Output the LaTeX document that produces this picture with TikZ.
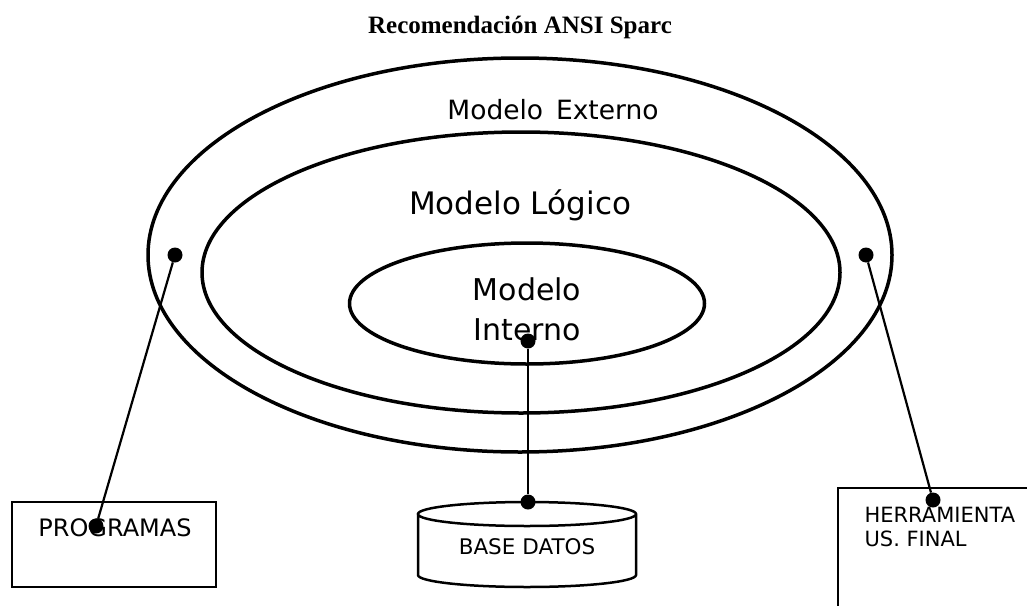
\documentclass[tikz,border=0pt]{standalone}
\usepackage{fontspec}
\setmainfont{DejaVu Sans}
\newfontfamily\titlefont{Liberation Serif}
\usepackage{tikz}
\usetikzlibrary{shapes.geometric}

\tikzset{
  level/.style={ellipse,draw,line width=3.5pt,inner sep=0pt},
  dot/.style={circle,fill,inner sep=0pt,minimum size=15pt},
  tool/.style={rectangle,draw,line width=2.5pt,inner sep=0pt},
  link/.style={line width=2.2pt},
}

\begin{document}
\begin{tikzpicture}[x=1pt,y=-1pt]
            \useasboundingbox[fill=white] (0,0) rectangle (1027,605);
            \clip (0,0) rectangle (1027,605);
            \node[anchor=base,font=\titlefont\bfseries\fontsize{25}{30}\selectfont] (titulo) at (520,33) {Recomendación ANSI Sparc};
            % los tres niveles
            \node[level,minimum width=744pt,minimum height=394pt] (externo) at (520,255) {};
            \node[level,minimum width=638pt,minimum height=281pt] (logico) at (521,272.5) {};
            \node[level,minimum width=355pt,minimum height=121pt] (interno) at (527,303.5) {};
            \node[anchor=base,font=\fontsize{26.5}{30}\selectfont] (lblext) at (553,119) {Modelo\ \,Externo};
            \node[anchor=base,font=\fontsize{31}{36}\selectfont] (lbllog) at (520,214) {Modelo Lógico};
            \node[anchor=base,align=center,font=\fontsize{30}{40}\selectfont] (lblint) at (527,340) {Modelo\\Interno};
            % herramientas de acceso
            \node[tool,minimum width=204pt,minimum height=85pt] (prog) at (114,544.5) {};
            \node[anchor=base,font=\fontsize{24}{28}\selectfont] (lblprog) at (115,536) {PROGRAMAS};
            \node[minimum width=218pt,minimum height=85pt,inner sep=0pt] (db) at (527,544.5) {};
            \draw[line width=2.5pt,shift={(db.center)}] (0,-30.5) ellipse[x radius=109,y radius=12]
                (-109,-30.5) -- (-109,30.5) arc[start angle=180,end angle=0,x radius=109,y radius=12] -- (109,-30.5);
            \node[anchor=base,font=\fontsize{21.5}{26}\selectfont] (lbldb) at (527,554) {BASE DATOS};
            \node[tool,minimum width=260pt,minimum height=160pt] (herr) at (968,568) {};
            \node[anchor=base west,align=left,font=\fontsize{21}{24}\selectfont] (lblherr) at (861,546) {HERRAMIENTA\\US. FINAL};
            % puntos de conexion
            \node[dot] (dl) at (175,255) {};
            \node[dot] (dr) at (866,255) {};
            \node[dot] (di) at (528,341) {};
            \node[dot] (dp) at (96,526) {};
            \node[dot] (dd) at (528,502) {};
            \node[dot] (dh) at (933,500) {};
            \path[link] (dl) edge (dp);
            \path[link] (di) edge (dd);
            \path[link] (dr) edge (dh);
        \end{tikzpicture}
\end{document}
